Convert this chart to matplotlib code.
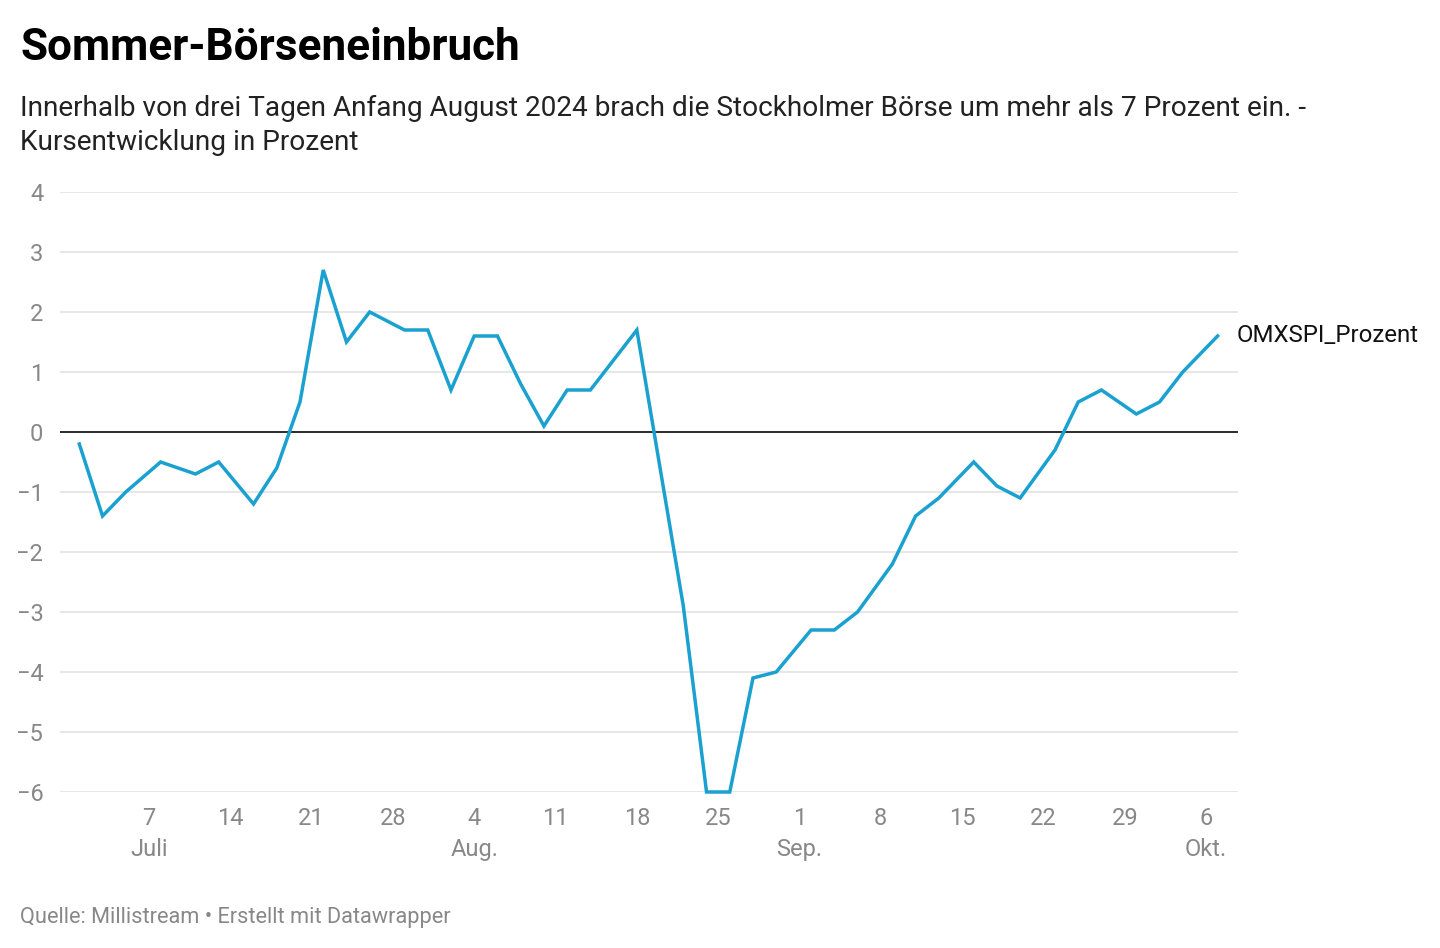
import matplotlib.pyplot as plt
import matplotlib.dates as mdates
import pandas as pd

# Daten (Prozent)
datum = ["2024-07-01", "2024-07-03", "2024-07-05", "2024-07-08", "2024-07-11",
         "2024-07-13", "2024-07-16", "2024-07-18", "2024-07-20", "2024-07-22",
         "2024-07-24", "2024-07-26", "2024-07-29", "2024-07-31", "2024-08-02",
         "2024-08-04", "2024-08-06", "2024-08-08", "2024-08-10", "2024-08-12",
         "2024-08-14", "2024-08-18", "2024-08-22", "2024-08-24", "2024-08-26",
         "2024-08-28", "2024-08-30", "2024-09-02", "2024-09-04", "2024-09-06",
         "2024-09-09", "2024-09-11", "2024-09-13", "2024-09-16", "2024-09-18",
         "2024-09-20", "2024-09-23", "2024-09-25", "2024-09-27", "2024-09-30",
         "2024-10-02", "2024-10-04", "2024-10-07"]
omxspi_prozent = [-0.2, -1.4, -1.0, -0.5, -0.7,
                  -0.5, -1.2, -0.6, 0.5, 2.7,
                  1.5, 2.0, 1.7, 1.7, 0.7,
                  1.6, 1.6, 0.8, 0.1, 0.7,
                  0.7, 1.7, -2.9, -6.0, -6.0,
                  -4.1, -4.0, -3.3, -3.3, -3.0,
                  -2.2, -1.4, -1.1, -0.5, -0.9,
                  -1.1, -0.3, 0.5, 0.7, 0.3,
                  0.5, 1.0, 1.6]

tick_tage = ["2024-07-07", "2024-07-14", "2024-07-21", "2024-07-28", "2024-08-04",
             "2024-08-11", "2024-08-18", "2024-08-25", "2024-09-01", "2024-09-08",
             "2024-09-15", "2024-09-22", "2024-09-29", "2024-10-06"]
tick_labels = ["7\nJuli", "14", "21", "28", "4\nAug.", "11", "18", "25",
               "1\nSep.", "8", "15", "22", "29", "6\nOkt."]
y_ticks = [4, 3, 2, 1, 0, -1, -2, -3, -4, -5, -6]

plt.rcParams['font.family'] = ['Roboto', 'DejaVu Sans']

x = mdates.date2num(pd.to_datetime(datum))
xt = mdates.date2num(pd.to_datetime(tick_tage))

fig = plt.figure(figsize=(14.4, 9.48), dpi=100)
ax = fig.add_axes([60 / 1440, 156 / 948, 1178 / 1440, 600 / 948])

blau = '#1aa1cf'
grau = '#888888'

for v in y_ticks:
    if v == 0:
        ax.axhline(v, color='#1a1a1a', lw=1.3, zorder=2)
    else:
        ax.axhline(v, color='#e3e3e3', lw=1.2, zorder=1)

ax.plot(x, omxspi_prozent, color=blau, lw=2.5, solid_joinstyle='miter',
        clip_on=False, zorder=3)
ax.annotate("OMXSPI_Prozent", (x[-1], omxspi_prozent[-1]), xytext=(14, 0),
            textcoords='offset points', va='center', ha='left', fontsize=17.3,
            color='#111111', annotation_clip=False)

# Pixel-Lage der Ticks: 7. Juli bei x=149, 6. Okt. bei x=1206
tag_px = (1206 - 149) / 91
ax.set_xlim(xt[0] - (149 - 60) / tag_px, xt[0] + (1238 - 149) / tag_px)
ax.set_ylim(-6, 4)

ax.set_xticks(xt)
ax.set_xticklabels(tick_labels, linespacing=1.45)
ax.set_yticks(y_ticks)
ax.set_yticklabels([str(v).replace('-', '\u2212') for v in y_ticks])
ax.tick_params(axis='both', length=0, labelsize=17, labelcolor=grau)
ax.tick_params(axis='x', pad=11)
ax.tick_params(axis='y', pad=12)
for s in ax.spines.values():
    s.set_visible(False)

fig.text(20 / 1440, 1 - 48 / 948, "Sommer-Börseneinbruch", fontsize=31.8,
         fontweight='bold', va='center', ha='left', color='#000000')
fig.text(20 / 1440, 1 - 125.5 / 948,
         "Innerhalb von drei Tagen Anfang August 2024 brach die Stockholmer Börse um mehr als 7 Prozent ein. -\n"
         "Kursentwicklung in Prozent",
         fontsize=20.2, va='center', ha='left', color='#222222', linespacing=1.33)
fig.text(20 / 1440, 1 - 917 / 948, "Quelle: Millistream \u2022 Erstellt mit Datawrapper",
         fontsize=15.7, va='center', ha='left', color=grau)

plt.savefig('out.png', dpi=100)
